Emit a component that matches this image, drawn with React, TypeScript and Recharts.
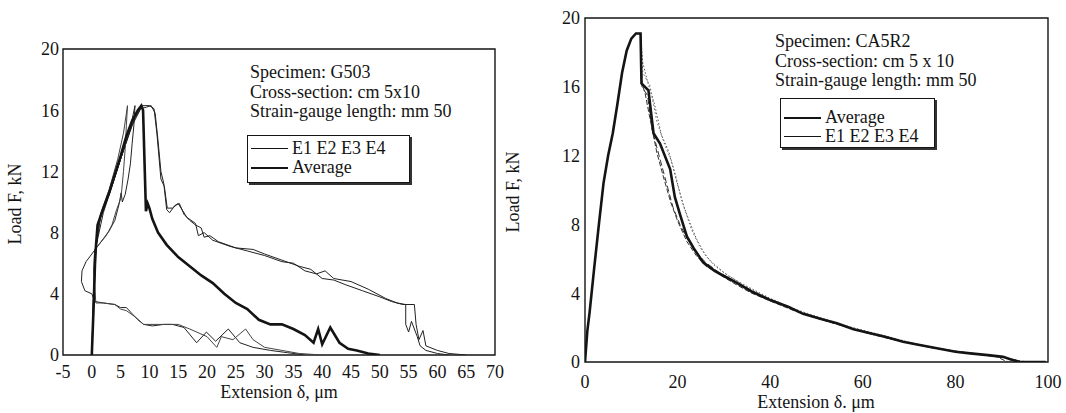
import { LineChart, Line, XAxis, YAxis, ReferenceArea } from 'recharts'

// ---- left panel (G503) ----
const G_X_TICKS = [-5, 0, 5, 10, 15, 20, 25, 30, 35, 40, 45, 50, 55, 60, 65, 70]
const G_Y_TICKS = [0, 4, 8, 12, 16, 20]
const Y_MINOR = [1, 2, 3, 5, 6, 7, 9, 10, 11, 13, 14, 15, 17, 18, 19, 4, 8, 12, 16]

const G_AVG: [number, number][] = [
  [0, 0], [0.3, 3], [0.6, 6.5], [1, 8.5], [2, 9.6], [3, 10.6], [4, 11.8], [5, 13], [6, 14.3], [7, 15.3],
  [8, 16.0], [8.6, 16.3], [8.9, 16.0], [9.2, 12], [9.4, 9.4], [9.7, 9.9], [10, 9.6], [10.5, 8.9],
  [11.5, 8.0], [13, 7.2], [15, 6.4], [17, 5.8], [19, 5.2], [21, 4.7], [23, 4.0], [25, 3.4], [27, 3.0],
  [29, 2.3], [31, 2.0], [33, 2.0], [35, 1.7], [37, 1.3], [38.5, 0.8], [39.3, 1.7], [40, 0.7], [41.4, 1.8],
  [43, 0.8], [44.5, 0.4], [46, 0.3], [48, 0.1], [50, 0],
]

const G_E1: [number, number][] = [
  [0, 0], [0.3, 3.5], [0.7, 7], [1.5, 9], [3, 10.5], [5, 12.8], [7, 15], [8.5, 16.1], [9.5, 16.2],
  [10.3, 16.3], [11, 15.8], [11.5, 14], [12, 12], [12.5, 11.2], [13, 9.5], [13.5, 9.3], [14.5, 9.8],
  [15.2, 9.9], [16, 9.2], [17, 8.8], [18, 8.5], [19, 8.3], [19.5, 7.7], [20.5, 7.8], [22, 7.4], [25, 7.0],
  [28, 6.9], [30, 6.6], [33, 6.2], [36, 5.8], [38, 5.6], [40, 5.0], [42, 4.9], [44, 4.6], [47, 4.2],
  [50, 3.8], [52, 3.5], [54, 3.3], [56, 3.3], [56.3, 2.0], [56.8, 1.0], [57.5, 1.6], [58, 0.6], [60, 0.3],
  [62, 0.1], [65, 0],
]

const G_E2: [number, number][] = [
  [0, 0], [0.4, 4], [0.8, 7.2], [2, 9.3], [4, 11.6], [6, 14], [7.5, 15.5], [8.8, 16.3], [10, 16.3],
  [10.8, 16.1], [11.3, 14.5], [12, 11.5], [12.6, 11], [13.1, 9.6], [14, 9.6], [15, 9.9], [16.5, 9.0],
  [18, 8.6], [18.5, 7.8], [19.5, 8.0], [21, 7.5], [24, 7.1], [27, 6.8], [30, 6.5], [33, 6.1], [35, 6.0],
  [37, 5.5], [39, 5.3], [40.5, 5.5], [42, 5.0], [45, 4.8], [48, 4.3], [51, 3.7], [53, 3.4], [54.5, 3.3],
  [54.5, 2.0], [55, 1.5], [55.5, 2.2], [56.5, 1.2], [57, 0.6], [58, 0.3], [60, 0.1], [62, 0],
]

const G_E3: [number, number][] = [
  [0, 0], [0.3, 4], [0.7, 7], [1.5, 9], [3, 10.5], [5, 12.8], [6.5, 14.5], [7.5, 16.3], [7.3, 15],
  [7, 13.8], [6.7, 12.5], [6.3, 11.5], [5.8, 10.5], [5.3, 10.0], [5.1, 10.6], [4.7, 9.8], [4, 8.8],
  [3, 8.1], [2, 7.6], [1, 7.1], [0, 6.6], [-1, 6.1], [-1.7, 5.5], [-1.8, 4.8], [-1.2, 4.2], [0, 4.0],
  [0.5, 3.5], [2, 3.4], [4, 3.3], [5, 3.1], [6, 3.1], [7, 2.7], [8, 2.3], [9, 2.0], [10.5, 1.9],
  [12.5, 2.0], [14, 2.0], [16, 1.8], [18.2, 0.8], [19.9, 1.5], [21.5, 0.9], [23.7, 1.7], [25.7, 0.8],
  [28, 0.5], [31, 0.3], [34, 0.15], [37, 0],
]

const G_E4: [number, number][] = [
  [0, 0], [0.3, 4], [0.7, 7.3], [1.5, 9.2], [3, 10.8], [4.5, 12.8], [5.5, 14.5], [6.2, 16.3], [6.0, 15],
  [5.8, 13.5], [5.5, 12], [5.2, 10.8], [5, 10.2], [4.3, 9.5], [3.5, 8.5], [2.5, 7.8], [1.2, 7.2],
  [0.5, 6.9], [0.3, 5.5], [0.5, 4.5], [0.7, 3.4], [2, 3.4], [4, 3.3], [5, 3.0], [6, 2.9], [7.5, 2.5],
  [9, 2.0], [12, 2.0], [15, 2.0], [17, 1.7], [20, 1.2], [21.7, 0.5], [22.5, 1.2], [24.5, 1.0],
  [26.7, 1.7], [28, 1.0], [30, 0.5], [33, 0.3], [36, 0.1], [40, 0],
]

// ---- right panel (CA5R2) ----
const C_X_TICKS = [0, 20, 40, 60, 80, 100]
const C_X_MINOR = [0, 5, 10, 15, 20, 25, 30, 35, 40, 45, 50, 55, 60, 65, 70, 75, 80, 85, 90, 95, 100]
const C_Y_TICKS = [0, 4, 8, 12, 16, 20]

const C_RISE: [number, number][] = [
  [0, 0], [0.5, 1.8], [1, 2.9], [2, 5.5], [3, 8], [4, 10.4], [5, 12], [6, 13.3], [7, 15], [8, 16.8],
  [9, 18.1], [10, 18.8], [11, 19.1], [12, 19.1],
]

const C_AVG_TAIL: [number, number][] = [
  [12.2, 16.2], [13.7, 15.8], [14.8, 13.3], [16.2, 12.7], [18.4, 11.2], [19.4, 9.6], [20.5, 8.6],
  [22, 7.3], [23.5, 6.6], [25.5, 5.8], [28, 5.3], [30, 5.0], [32.8, 4.6], [36, 4.1], [40, 3.6],
  [44, 3.2], [47.1, 2.8], [51, 2.5], [54.4, 2.25], [58, 1.9], [61.6, 1.67], [65, 1.45], [68.7, 1.18],
  [72, 1.0], [76, 0.8], [80, 0.6], [83.2, 0.5], [87, 0.4], [90.3, 0.3], [92, 0.15], [94, 0], [99.5, 0],
]

const C_E1_TAIL: [number, number][] = [
  [12.3, 16.2], [13, 15.6], [14, 14.2], [15.5, 12.2], [17, 10.7], [18.5, 9.3], [20, 8.2], [22, 7.0],
  [24, 6.2], [26, 5.6], [29, 5.1], [32, 4.6], [36, 4.0], [40, 3.55], [45, 3.0], [50, 2.55], [55, 2.15],
  [60, 1.75], [65, 1.4], [70, 1.1], [75, 0.82], [80, 0.6], [85, 0.45], [89, 0.3], [90.5, 0.1],
  [91.5, 0], [99, 0],
]

const C_E2_TAIL: [number, number][] = [
  [12.4, 17.5], [13.5, 16.3], [15, 15], [16.5, 13.2], [18, 12.3], [19.5, 10.9], [21, 9.3], [22.5, 8.2],
  [24, 7.2], [26, 6.2], [28, 5.6], [31, 5.0], [35, 4.4], [40, 3.7], [45, 3.1], [50, 2.65], [55, 2.2],
  [60, 1.85], [65, 1.5], [70, 1.15], [75, 0.85], [80, 0.65], [85, 0.45], [90, 0.3], [93, 0.1], [95, 0],
  [99, 0],
]

const C_E3_TAIL: [number, number][] = [
  [12.3, 16.0], [13.5, 15.5], [14.5, 13.5], [16, 12.0], [17.5, 10.5], [19, 9.0], [20.5, 8.0], [22, 7.2],
  [24, 6.4], [26, 5.8], [29, 5.2], [33, 4.6], [37, 4.0], [42, 3.4], [47, 2.85], [52, 2.4], [57, 2.0],
  [62, 1.65], [67, 1.3], [72, 1.0], [77, 0.75], [82, 0.55], [87, 0.4], [91, 0.25], [93, 0.05], [96, 0],
  [99.5, 0],
]

const C_E4_TAIL: [number, number][] = [
  [12.5, 16.8], [14, 16.1], [15.5, 14.0], [17, 12.8], [18.5, 11.8], [20, 10.3], [21.5, 8.9], [23, 7.7],
  [25, 6.6], [27, 5.9], [30, 5.2], [34, 4.5], [38, 3.9], [43, 3.3], [48, 2.8], [53, 2.35], [58, 1.95],
  [63, 1.6], [68, 1.25], [73, 0.95], [78, 0.72], [83, 0.52], [88, 0.38], [92, 0.2], [94, 0.05], [97, 0],
  [99.5, 0],
]

const FONT = '"Liberation Serif", "Times New Roman", serif'
const INK = '#141414'

const pts = (arr: [number, number][]) => arr.map(([x, y]) => ({ x, y }))

const tickStyle = { fontSize: 18, fill: INK, fontFamily: FONT }

function LegendBox({ left, top, width, height, padTop, rows }: {
  left: number; top: number; width: number; height: number; padTop: number
  rows: { label: string; thick: boolean }[]
}) {
  return (
    <div style={{
      position: 'absolute', left, top, width, height, boxSizing: 'border-box',
      border: `1.5px solid ${INK}`, boxShadow: `2px 2px 0 #333`, background: '#fff',
      padding: `${padTop}px 0 0 3px`,
    }}>
      {rows.map((r) => (
        <div key={r.label} style={{ display: 'flex', alignItems: 'center', height: 19 }}>
          <div style={{ width: 37, height: 0, borderTop: `${r.thick ? 2.5 : 1}px solid ${INK}`, marginRight: 4 }} />
          <span>{r.label}</span>
        </div>
      ))}
    </div>
  )
}

export default function App() {
  return (
    <div style={{
      position: 'absolute', left: 0, top: 0, width: 1066, height: 413, background: '#fff',
      fontFamily: FONT, fontSize: 18, color: INK, overflow: 'hidden',
    }}>
      {/* left panel */}
      <div style={{ position: 'absolute', left: 0, top: 0 }}>
        <LineChart width={530} height={413} margin={{ top: 49, right: 35, bottom: 18, left: 13 }}>
          <XAxis type="number" dataKey="x" domain={[-5, 70]} ticks={G_X_TICKS} interval={0}
            axisLine={false} tickLine={false} tickSize={0} tickMargin={10} height={40} tick={tickStyle}
            allowDataOverflow />
          <XAxis xAxisId="minor" type="number" domain={[-5, 70]} ticks={G_X_TICKS} interval={0} mirror
            axisLine={false} tick={false} tickSize={4} tickLine={{ stroke: '#333' }} height={0} />
          <YAxis type="number" dataKey="y" domain={[0, 20]} ticks={G_Y_TICKS} interval={0}
            axisLine={false} tickLine={false} tickSize={0} tickMargin={4} width={50} tick={tickStyle}
            allowDataOverflow />
          <YAxis yAxisId="minor" type="number" domain={[0, 20]} ticks={Y_MINOR} interval={0} mirror
            axisLine={false} tick={false} tickSize={4} tickLine={{ stroke: '#333' }} width={0} />
          <ReferenceArea x1={-5} x2={70} y1={0} y2={20} fill="none" stroke={INK} strokeWidth={1.4} ifOverflow="visible" />
          <Line data={pts(G_E1)} dataKey="y" stroke="#222" strokeWidth={1} dot={false} isAnimationActive={false} />
          <Line data={pts(G_E2)} dataKey="y" stroke="#222" strokeWidth={1} dot={false} isAnimationActive={false} />
          <Line data={pts(G_E3)} dataKey="y" stroke="#222" strokeWidth={1} dot={false} isAnimationActive={false} />
          <Line data={pts(G_E4)} dataKey="y" stroke="#444" strokeWidth={1} dot={false} isAnimationActive={false} />
          <Line data={pts(G_AVG)} dataKey="y" stroke={INK} strokeWidth={2.6} dot={false} isAnimationActive={false} />
        </LineChart>
      </div>

      {/* right panel */}
      <div style={{ position: 'absolute', left: 530, top: 0 }}>
        <LineChart width={536} height={413} margin={{ top: 18, right: 18, bottom: 11, left: 15 }}>
          <XAxis type="number" dataKey="x" domain={[0, 100]} ticks={C_X_TICKS} interval={0}
            axisLine={false} tickLine={false} tickSize={0} tickMargin={13} height={40} tick={tickStyle}
            allowDataOverflow />
          <XAxis xAxisId="minor" type="number" domain={[0, 100]} ticks={C_X_MINOR} interval={0} mirror
            axisLine={false} tick={false} tickSize={3} tickLine={{ stroke: '#444' }} height={0} />
          <YAxis type="number" dataKey="y" domain={[0, 20]} ticks={C_Y_TICKS} interval={0}
            axisLine={false} tickLine={false} tickSize={0} tickMargin={5} width={40} tick={tickStyle}
            allowDataOverflow />
          <YAxis yAxisId="minor" type="number" domain={[0, 20]} ticks={Y_MINOR} interval={0} mirror
            axisLine={false} tick={false} tickSize={4} tickLine={{ stroke: '#333' }} width={0} />
          <ReferenceArea x1={0} x2={100} y1={0} y2={20} fill="none" stroke={INK} strokeWidth={1.4} ifOverflow="visible" />
          <Line data={pts([...C_RISE, ...C_E1_TAIL])} dataKey="y" stroke="#333" strokeWidth={1} strokeDasharray="5 2" dot={false} isAnimationActive={false} />
          <Line data={pts([...C_RISE, ...C_E2_TAIL])} dataKey="y" stroke="#555" strokeWidth={1} strokeDasharray="1.5 2" dot={false} isAnimationActive={false} />
          <Line data={pts([...C_RISE, ...C_E3_TAIL])} dataKey="y" stroke="#333" strokeWidth={1} strokeDasharray="6 3" dot={false} isAnimationActive={false} />
          <Line data={pts([...C_RISE, ...C_E4_TAIL])} dataKey="y" stroke="#666" strokeWidth={1} strokeDasharray="1.5 2.5" dot={false} isAnimationActive={false} />
          <Line data={pts([...C_RISE, ...C_AVG_TAIL])} dataKey="y" stroke={INK} strokeWidth={2.6} dot={false} isAnimationActive={false} />
        </LineChart>
      </div>

      {/* axis titles */}
      <div style={{ position: 'absolute', left: 15, top: 204, transform: 'translate(-50%, -50%) rotate(-90deg)', whiteSpace: 'nowrap' }}>Load F, kN</div>
      <div style={{ position: 'absolute', left: 513, top: 192, transform: 'translate(-50%, -50%) rotate(-90deg)', whiteSpace: 'nowrap' }}>Load F, kN</div>
      <div style={{ position: 'absolute', left: 279, top: 392, transform: 'translate(-50%, -50%)', whiteSpace: 'nowrap' }}>Extension δ, μm</div>
      <div style={{ position: 'absolute', left: 816, top: 402, transform: 'translate(-50%, -50%)', whiteSpace: 'nowrap' }}>Extension δ. μm</div>

      {/* annotations */}
      <div style={{ position: 'absolute', left: 250, top: 63, lineHeight: '19.5px', whiteSpace: 'nowrap' }}>
        <div>Specimen: G503</div>
        <div>Cross-section: cm 5x10</div>
        <div>Strain-gauge length: mm 50</div>
      </div>
      <LegendBox left={247} top={135} width={163} height={48} padTop={3}
        rows={[{ label: 'E1 E2 E3 E4', thick: false }, { label: 'Average', thick: true }]} />

      <div style={{ position: 'absolute', left: 775, top: 32, lineHeight: '19.5px', whiteSpace: 'nowrap' }}>
        <div>Specimen: CA5R2</div>
        <div>Cross-section: cm 5 x 10</div>
        <div>Strain-gauge length: mm 50</div>
      </div>
      <LegendBox left={780} top={98} width={155} height={50} padTop={9}
        rows={[{ label: 'Average', thick: true }, { label: 'E1 E2 E3 E4', thick: false }]} />
    </div>
  )
}
